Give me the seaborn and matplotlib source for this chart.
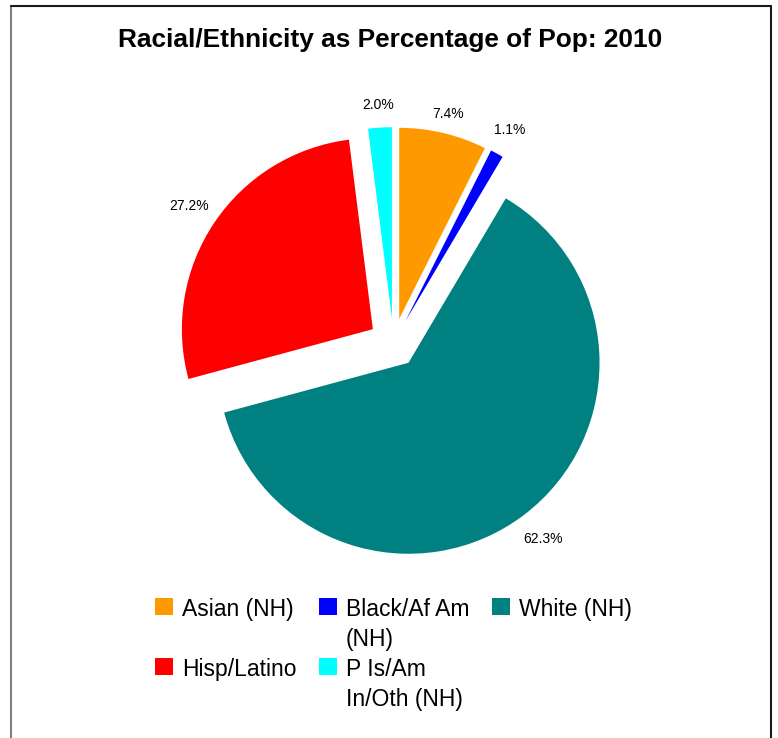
import matplotlib
matplotlib.use("Agg")
import numpy as np
import matplotlib.pyplot as plt
import seaborn as sns
from matplotlib.lines import Line2D

# data
groups = ["Asian (NH)", "Black/Af Am (NH)", "White (NH)", "Hisp/Latino", "P Is/Am In/Oth (NH)"]
legend_labels = ["Asian (NH)\n", "Black/Af Am\n(NH)", "White (NH)", "Hisp/Latino", "P Is/Am\nIn/Oth (NH)"]
shares = [7.4, 1.1, 62.3, 27.2, 2.0]
colors = ["#FF9900", "#0000FF", "#008080", "#FF0000", "#00FFFF"]
title = "Racial/Ethnicity as Percentage of Pop: 2010"

sns.set_theme(style="white", palette=sns.color_palette(colors))
plt.rcParams["font.family"] = ["Liberation Sans", "DejaVu Sans"]
plt.rcParams["text.color"] = "black"

W, H = 778, 738
fig = plt.figure(figsize=(W / 100, H / 100), dpi=100)
fig.patch.set_facecolor("white")

# pie centre ~ (393.5, 343) px, radius ~191 px
R = 191
cx, cy = 393.5, 343
L = 1.5
ax = fig.add_axes([(cx - L * R) / W, (H - cy - L * R) / H, 2 * L * R / W, 2 * L * R / H])

wedges, texts, autotexts = ax.pie(
    shares,
    colors=sns.color_palette(colors),
    startangle=90,
    counterclock=False,
    explode=[0.13] * len(shares),
    autopct="%1.1f%%",
    pctdistance=1.13,
    wedgeprops=dict(linewidth=0),
    textprops=dict(fontsize=10, color="black"),
)
# push each percentage label out a little like the original outside-end labels
label_dist = [1.1, 1.14, 1.16, 1.16, 1.12]
for t, w, d in zip(autotexts, wedges, label_dist):
    ang = np.deg2rad((w.theta1 + w.theta2) / 2)
    t.set_position((w.center[0] + d * np.cos(ang), w.center[1] + d * np.sin(ang)))

ax.set_xlim(-L, L)
ax.set_ylim(-L, L)
ax.set_aspect("equal")
ax.axis("off")

fig.text(390.5 / W, 1 - 46.7 / H, title, ha="center", va="baseline",
         fontsize=18.9, fontweight="bold", color="black")

# legend filled column by column -> order so that rows read like the reference
order = [0, 3, 1, 4, 2]
leg = fig.legend(
    [wedges[i] for i in order],
    [legend_labels[i] for i in order],
    ncol=3,
    loc="upper center",
    bbox_to_anchor=(cx / W, 1 - 598 / H),
    frameon=False,
    fontsize=16.5,
    labelcolor="black",
    handlelength=0.77,
    handleheight=0.77,
    handletextpad=0.4,
    columnspacing=1.0,
    labelspacing=0.3,
    borderpad=0,
    borderaxespad=0,
)
for txt in leg.get_texts():
    txt.set_linespacing(1.4)
leg._legend_handle_box.align = "top"
for col in leg._legend_handle_box.get_children():
    for item in col.get_children():
        item.align = "top"

# chart-area border
fig.add_artist(Line2D([11 / W, 11 / W], [0, 1 - 6 / H], transform=fig.transFigure,
                      color="#7f7f7f", lw=1.5))
fig.add_artist(Line2D([11 / W, 771 / W], [1 - 6 / H, 1 - 6 / H], transform=fig.transFigure,
                      color="#1a1a1a", lw=1.5))
fig.add_artist(Line2D([771 / W, 771 / W], [1 - 6 / H, 0], transform=fig.transFigure,
                      color="#1a1a1a", lw=1.5))

fig.savefig("out.png", dpi=100)
